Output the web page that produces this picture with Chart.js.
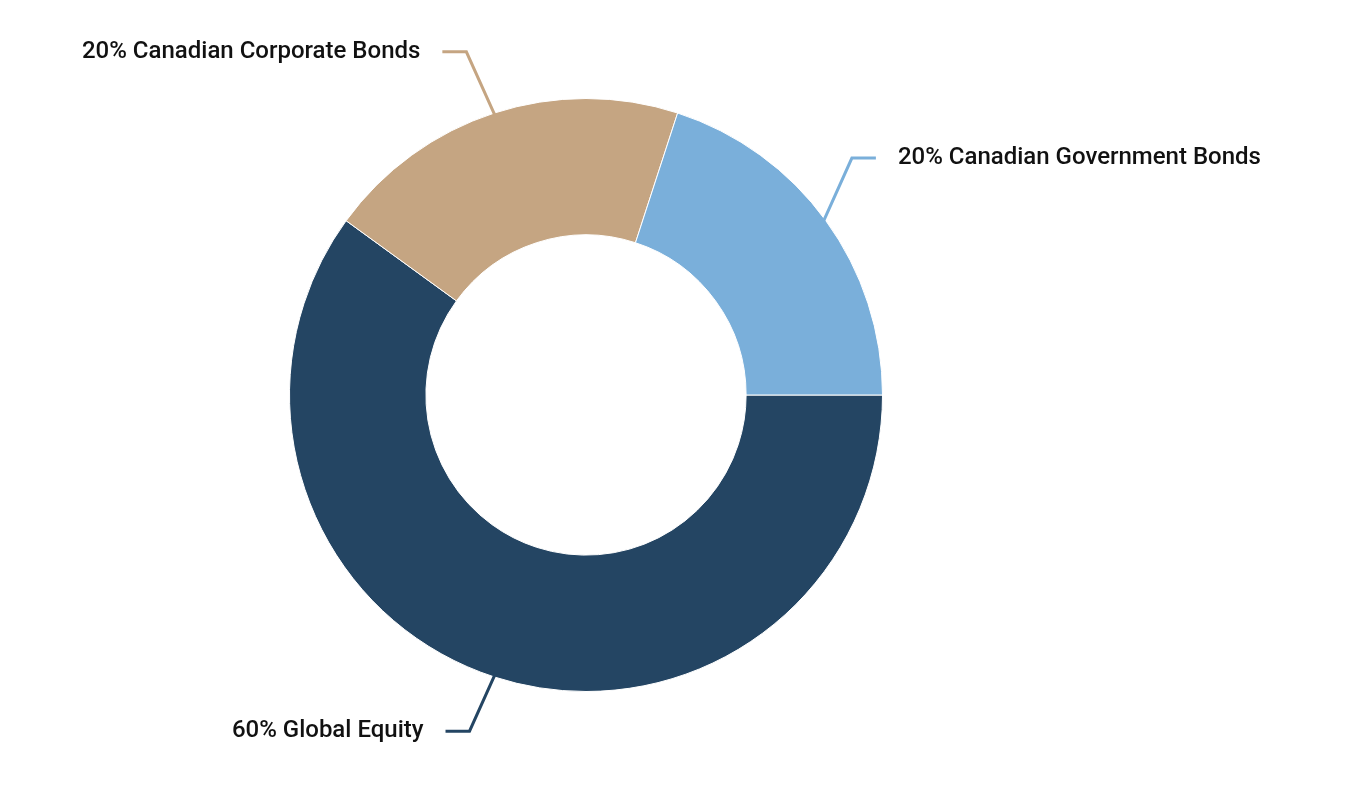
<!DOCTYPE html>
<html>
<head>
<meta charset="utf-8">
<script src="https://cdn.jsdelivr.net/npm/chart.js@4"></script>
<style>
  html, body { margin: 0; padding: 0; background: #fff; }
  #wrap { width: 1356px; height: 786px; }
</style>
</head>
<body>
<div id="wrap"><canvas id="chart-canvas"></canvas></div>
<script>
'use strict';

const names = ['Global Equity', 'Canadian Corporate Bonds', 'Canadian Government Bonds'];
const shares = [60, 20, 20];
const colors = ['#244563', '#c5a582', '#7aafda'];

// label side for each slice: -1 = text on the left, 1 = text on the right
const sides = [-1, -1, 1];

const leaderLabels = {
    id: 'leaderLabels',
    afterDatasetsDraw(chart) {
        const ctx = chart.ctx;
        const arcs = chart.getDatasetMeta(0).data;
        ctx.save();
        ctx.font = '500 24px Roboto';
        ctx.textBaseline = 'middle';
        arcs.forEach((arc, i) => {
            const p = arc.getProps(['x', 'y', 'startAngle', 'endAngle', 'outerRadius'], true);
            const mid = (p.startAngle + p.endAngle) / 2;
            const r = p.outerRadius - 4;
            const ax = p.x + Math.cos(mid) * r;
            const ay = p.y + Math.sin(mid) * r;
            // elbow ~65px further out vertically
            const dy = Math.sin(mid) < 0 ? -65 : 58;
            const ex = ax + sides[i] * Math.abs(dy) * 0.45;
            const ey = ay + dy;
            const hx = ex + sides[i] * 24;
            ctx.strokeStyle = colors[i];
            ctx.lineWidth = 3;
            ctx.beginPath();
            ctx.moveTo(ax, ay);
            ctx.lineTo(ex, ey);
            ctx.lineTo(hx, ey);
            ctx.stroke();
            ctx.fillStyle = '#111';
            ctx.textAlign = sides[i] < 0 ? 'right' : 'left';
            ctx.fillText(shares[i] + '% ' + names[i], hx + sides[i] * 22, ey);
        });
        ctx.restore();
    }
};

new Chart(document.getElementById('chart-canvas').getContext('2d'), {
    type: 'doughnut',
    data: {
        labels: names,
        datasets: [{
            data: shares,
            backgroundColor: colors,
            borderColor: '#ffffff',
            borderWidth: 1
        }]
    },
    options: {
        responsive: true,
        maintainAspectRatio: false,
        animation: false,
        rotation: 90,
        cutout: '54%',
        layout: { padding: { left: 289, right: 473, top: 98, bottom: 94 } },
        plugins: {
            legend: { display: false },
            tooltip: { enabled: false }
        }
    },
    plugins: [leaderLabels]
});
</script>
</body>
</html>
